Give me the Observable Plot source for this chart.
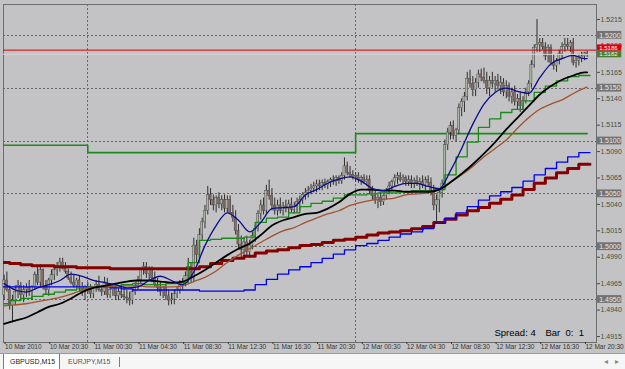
<!DOCTYPE html>
<html><head><meta charset="utf-8">
<script src="https://cdn.jsdelivr.net/npm/d3@7"></script>
<script src="https://cdn.jsdelivr.net/npm/@observablehq/plot@0.6"></script>
<style>
body{margin:0;background:#c3c3c5;width:625px;overflow:hidden;font-family:"Liberation Sans",Arial,sans-serif;}
#tabs{position:relative;width:625px;height:15px;background:#f6f6f6;border-top:1px solid #9a9a9a;font-size:7px;color:#222;}
#tabs .tab{position:absolute;top:0;height:15px;line-height:15px;}
</style></head>
<body>
<div id="chart"></div>
<div id="tabs">
  <div class="tab" style="left:3px;width:57px;background:#fff;border-left:1px solid #7a7a7a;border-right:1px solid #7a7a7a;padding-left:6px;box-sizing:border-box;">GBPUSD,M15</div>
  <div class="tab" style="left:68px;color:#555;">EURJPY,M15</div>
  <div style="position:absolute;left:119px;top:3px;width:1px;height:10px;background:#7a7a7a;"></div>
  <div class="tab" style="left:604px;color:#888;font-size:8px;">&#9666;</div>
  <div class="tab" style="left:615px;color:#888;font-size:8px;">&#9656;</div>
</div>
<script>
// GBPUSD M15, bars from 10 Mar 2010 16:30, prices in pips above BASE
const BASE = 1.49;
const openPips = [54,68,59,44,49,57,63,54,59,61,57,62,73,66,78,63,59,68,73,78,81,85,79,76,70,66,63,68,61,57,62,59,55,61,64,59,57,66,54,59,61,53,57,54,52,51,49,57,63,68,78,81,74,78,70,64,61,57,61,53,49,
50,55,59,64,66,72,81,70,101,92,111,123,134,149,144,139,146,140,144,136,144,132,127,115,102,97,104,95,101,110,117,131,139,134,153,148,139,134,139,134,138,136,140,135,138,142,144,149,151,153,155,157,159,157,160,158,161,163,161,165,162,167,176,170,168,166,167,163,165,161,163,153,148,144,146,142,148,153,157,161,165,167,163,165,161,163,159,162,159,161,158,163,160,151,139,144,151,159,196,208,214,205,210,231,237,242,259,254,248,255,263,
260,257,250,257,254,257,252,255,246,252,242,246,237,240,233,238,246,254,272,288,291,293,289,280,288,274,271,276,282,289,291,289,293,274,276,278,280,283];
const highPips = [73,76,63,54,63,68,66,63,65,68,63,76,82,83,79,68,70,78,82,85,89,89,85,79,76,73,70,72,66,63,66,64,62,68,72,63,71,70,62,64,65,61,62,61,59,57,59,66,72,79,85,85,81,81,76,70,66,62,64,59,56,
59,62,68,70,76,89,85,108,106,117,127,139,157,155,149,148,151,148,149,148,148,139,134,121,110,108,110,106,114,120,134,144,146,158,163,155,146,144,146,142,144,144,146,142,146,148,151,155,157,159,161,163,163,163,164,163,165,167,167,167,170,184,180,176,172,170,170,167,168,167,167,157,153,149,151,149,155,161,163,168,170,170,168,167,167,167,165,167,165,167,166,167,165,158,149,155,163,201,212,218,219,212,235,240,246,265,267,261,259,267,268,
269,265,261,265,261,263,261,259,257,255,250,252,244,246,242,250,257,276,291,315,297,297,293,291,291,282,278,286,293,297,297,295,297,280,282,284,284,285];
const lowPips = [49,57,40,28,44,51,49,47,52,53,49,59,63,61,59,54,53,63,68,72,76,78,74,68,64,61,59,57,53,49,55,51,51,57,57,53,54,51,51,53,49,49,51,49,46,44,45,54,59,64,73,70,68,66,62,57,53,51,49,44,45,
45,51,55,59,62,68,66,66,85,89,106,117,130,139,134,132,136,134,132,132,130,123,111,98,89,91,91,89,97,104,114,125,130,131,144,134,130,129,131,129,132,130,132,131,132,134,140,144,146,149,151,151,153,153,155,154,156,158,157,159,159,163,167,165,163,161,160,158,159,157,149,144,140,136,138,139,144,149,153,157,159,161,159,157,157,155,155,157,153,155,153,157,148,134,123,132,146,155,191,201,201,199,206,223,227,238,250,242,242,250,256,
254,244,242,250,246,248,244,242,240,237,235,233,229,227,229,235,242,250,269,284,284,286,276,274,271,267,265,272,278,284,286,284,271,269,271,274,276,279];
const closePips = [68,59,44,49,57,63,54,59,61,57,62,73,66,78,63,59,68,73,78,81,85,79,76,70,66,63,68,61,57,62,59,55,61,64,59,57,66,54,59,61,53,57,54,52,51,49,57,63,68,78,81,74,78,70,64,61,57,61,53,49,50,
55,59,64,66,72,81,70,101,92,111,123,134,149,144,139,146,140,144,136,144,132,127,115,102,97,104,95,101,110,117,131,139,134,153,148,139,134,139,134,138,136,140,135,138,142,144,149,151,153,155,157,159,157,160,158,161,163,161,165,162,167,176,170,168,166,167,163,165,161,163,153,148,144,146,142,148,153,157,161,165,167,163,165,161,163,159,162,159,161,158,163,160,151,139,144,151,159,196,208,214,205,210,231,237,242,259,254,248,255,263,260,
257,250,257,254,257,252,255,246,252,242,246,237,240,233,238,246,254,272,288,291,293,289,280,288,274,271,276,282,289,291,289,293,274,276,278,280,283,282];

// indicator values, one per hour
const navyPips  = [65,59,57,61,64,68,74,72,68,66,64,61,62,68,72,68,64,76,101,120,132,125,114,123,136,137,138,149,154,160,164,166,162,155,153,157,160,160,157,155,172,193,216,235,246,250,247,245,260,273,278,281,278,278];
const blackPips = [27,30,33,38,43,46,51,57,61,63,65,67,68,68,67,66,67,72,78,85,92,98,103,111,120,125,128,131,132,136,142,150,154,154,153,153,152,152,152,154,161,169,178,188,199,211,222,233,244,252,258,262,265,265];
const brownPips = [44,45,46,48,50,52,55,59,62,62,63,63,63,62,62,62,63,67,71,77,85,92,98,104,110,115,118,123,127,131,134,139,142,144,145,146,149,150,151,154,161,168,176,185,193,201,212,222,230,235,239,245,250,251];
const greenPips = [46,49,51,53,55,57,59,61,62,62,63,64,65,64,64,65,66,85,106,107,108,108,109,123,127,128,132,138,141,143,146,149,149,150,151,151,152,153,153,154,168,185,199,213,221,227,230,238,246,252,257,261,262,262];
const bluePips  = [62,62,62,62,62,62,62,62,62,62,61,60,59,59,59,59,59,59,58,58,58,58,59,64,69,74,78,81,85,89,93,97,101,103,106,109,112,114,117,122,127,132,138,144,148,152,156,162,168,174,180,185,189,189];
const redPips   = [85,84,83,82,82,81,81,80,80,80,79,79,79,79,79,79,79,79,81,84,87,89,91,94,96,97,99,101,102,104,106,107,109,111,113,114,115,117,119,123,126,130,134,137,141,145,149,154,160,165,170,174,178,178];

const pivotBars = [-1, 30, 126, 209];
const pivotLevels = [1.5096, 1.5089, 1.5107, 1.5107];
const askPrice = 1.5186, bidPrice = 1.5182;

const tickBars = [0,16,32,48,64,80,96,112,128,144,160,176,192,208];
const tickLabels = ["10 Mar 2010","10 Mar 20:30","11 Mar 00:30","11 Mar 04:30","11 Mar 08:30","11 Mar 12:30","11 Mar 16:30","11 Mar 20:30","12 Mar 00:30","12 Mar 04:30","12 Mar 08:30","12 Mar 12:30","12 Mar 16:30","12 Mar 20:30"];
const daySeparators = [30, 126];
const gridLevels = [1.5200,1.5150,1.5100,1.5050,1.5000,1.4950];
const axisLevels = [1.5215,1.5190,1.5165,1.5140,1.5115,1.5090,1.5065,1.5040,1.5015,1.4990,1.4965,1.4940,1.4915];

const P = p => BASE + p / 10000;
const candles = openPips.map((o, i) => ({i, o: P(o), h: P(highPips[i]), l: P(lowPips[i]), c: P(closePips[i])}));
const maBars = d3.range(0, 209, 4).concat([209]);
const stepBars = d3.range(-2, 207, 4).concat([210]);
const mk = (bars, arr) => arr.map((v, k) => ({b: bars[k], v: P(v)}));
const navy = mk(maBars, navyPips), black = mk(maBars, blackPips), brown = mk(maBars, brownPips);
const green = mk(stepBars, greenPips), blue = mk(stepBars, bluePips), red = mk(stepBars, redPips);
const pivot = pivotBars.map((b, k) => ({b, v: pivotLevels[k]}));

const chart = Plot.plot({
  width: 625, height: 353,
  marginLeft: 3, marginRight: 29, marginTop: 4, marginBottom: 11,
  style: {background: "#c3c3c5", fontFamily: "Liberation Sans, Arial, sans-serif", overflow: "visible"},
  x: {domain: [-0.215, 212.33], axis: null},
  y: {domain: [1.490932, 1.522919], axis: null},
  marks: [
    Plot.frame({stroke: "#6c6c6c"}),
    Plot.ruleY(gridLevels, {stroke: "#666", strokeDasharray: "2,2", shapeRendering: "crispEdges"}),
    Plot.ruleX(daySeparators, {stroke: "#666", strokeDasharray: "2,2", shapeRendering: "crispEdges"}),
    Plot.line(pivot, {x: "b", y: "v", curve: "step-after", stroke: "#1d8a1d", strokeWidth: 1.6, clip: true}),
    Plot.ruleX(candles, {x: "i", y1: "l", y2: "h", stroke: "#2e2e2e", strokeWidth: 1}),
    Plot.rect(candles, {x1: d => d.i - 0.38, x2: d => d.i + 0.38, y1: "o", y2: "c",
      fill: d => d.c >= d.o ? "#a9b3a6" : "#8c6a66", stroke: "#3a3a3a", strokeWidth: 0.4}),
    Plot.line(red, {x: "b", y: "v", curve: "step-after", stroke: "#860000", strokeWidth: 3, clip: true}),
    Plot.line(blue, {x: "b", y: "v", curve: "step-after", stroke: "#0000f0", strokeWidth: 1.3, clip: true}),
    Plot.line(green, {x: "b", y: "v", curve: "step-after", stroke: "#178a17", strokeWidth: 1.3, clip: true}),
    Plot.line(brown, {x: "b", y: "v", curve: "monotone-x", stroke: "#a0522d", strokeWidth: 1.3}),
    Plot.line(black, {x: "b", y: "v", curve: "monotone-x", stroke: "#000", strokeWidth: 1.8}),
    Plot.line(navy, {x: "b", y: "v", curve: "monotone-x", stroke: "#0a0a8c", strokeWidth: 1.3}),
    Plot.ruleY([bidPrice], {stroke: "#d9d3d3", strokeWidth: 1}),
    Plot.ruleY([askPrice], {stroke: "#d40000", strokeWidth: 1}),
    Plot.axisY(axisLevels, {anchor: "right", tickSize: 3, tickPadding: 1, fontSize: 7, color: "#435043", tickFormat: d => d.toFixed(4)}),
    Plot.rect(gridLevels, {x1: 212.7, x2: 221.4, y1: d => d - 0.00037, y2: d => d + 0.00037, fill: "#737373"}),
    Plot.text(gridLevels, {x: 213.3, y: d => d, text: d => d.toFixed(4), textAnchor: "start", fill: "#e8e8e8", fontSize: 7}),
    Plot.rect([askPrice], {x1: 212.7, x2: 221.4, y1: d => d - 0.0001, y2: d => d + 0.0005, fill: "#e00000"}),
    Plot.text([askPrice], {x: 213.3, y: d => d + 0.0002, text: d => d.toFixed(4), textAnchor: "start", fill: "#fff", fontSize: 6}),
    Plot.rect([bidPrice], {x1: 212.7, x2: 221.4, y1: d => d - 0.00033, y2: d => d + 0.0003, fill: "#4f7d30"}),
    Plot.text([bidPrice], {x: 213.3, y: d => d - 0.00002, text: d => d.toFixed(4), textAnchor: "start", fill: "#f2f2f2", fontSize: 6}),
    Plot.axisX(tickBars, {anchor: "bottom", tickSize: 2, tickPadding: 0, fontSize: 6.5, textAnchor: "start", dx: 1, color: "#333",
      tickFormat: d => tickLabels[tickBars.indexOf(d)]}),
    Plot.text(["Spread: 4"], {frameAnchor: "bottom-left", dx: 491, dy: -7, textAnchor: "start", fontSize: 9.5, fill: "#000"}),
    Plot.text(["Bar\u00a0\u00a00:\u00a0\u00a01"], {frameAnchor: "bottom-left", dx: 542, dy: -7, textAnchor: "start", fontSize: 9.5, fill: "#000"})
  ]
});
document.getElementById("chart").appendChild(chart);
</script>
</body></html>
